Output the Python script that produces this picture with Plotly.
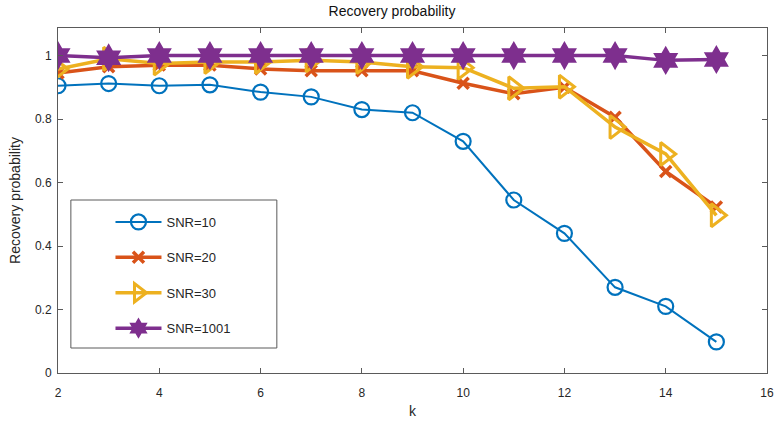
import plotly.graph_objects as go

k = [2, 3, 4, 5, 6, 7, 8, 9, 10, 11, 12, 13, 14, 15]
snr10 = [0.905, 0.912, 0.905, 0.908, 0.885, 0.87, 0.83, 0.82, 0.73, 0.545, 0.44, 0.27, 0.21, 0.098]
snr20 = [0.945, 0.965, 0.97, 0.97, 0.958, 0.952, 0.952, 0.952, 0.913, 0.88, 0.9, 0.806, 0.635, 0.523]
snr30 = [0.958, 0.99, 0.975, 0.98, 0.98, 0.985, 0.98, 0.965, 0.962, 0.897, 0.902, 0.775, 0.69, 0.497]
snr1001 = [1.0, 0.993, 1.0, 1.0, 1.0, 1.0, 1.0, 1.0, 1.0, 1.0, 1.0, 1.0, 0.985, 0.988]
names = ["SNR=10", "SNR=20", "SNR=30", "SNR=1001"]
xticks = [2, 4, 6, 8, 10, 12, 14, 16]
yticks = [0, 0.2, 0.4, 0.6, 0.8, 1.0]
yticklabels = ["0", "0.2", "0.4", "0.6", "0.8", "1"]

blue, orange, yellow, purple = "#0072BD", "#D95319", "#EDB120", "#7E2F8E"

fig = go.Figure()
fig.add_trace(go.Scatter(x=k, y=snr10, name=names[0], legendgroup="a", mode="lines+markers",
                         line=dict(color=blue, width=2),
                         marker=dict(symbol="circle-open", size=15, color=blue, line=dict(width=2.2, color=blue))))
fig.add_trace(go.Scatter(x=k, y=snr20, name=names[1], legendgroup="b", mode="lines+markers",
                         line=dict(color=orange, width=3.5),
                         marker=dict(symbol="x-thin", size=11, color=orange, line=dict(width=3.5, color=orange))))
fig.add_trace(go.Scatter(x=k, y=snr30, name=names[2], legendgroup="c", mode="lines+markers",
                         line=dict(color=yellow, width=3.5),
                         marker=dict(symbol="triangle-right-open", size=20, color=yellow, line=dict(width=3, color=yellow))))
fig.add_trace(go.Scatter(x=k, y=snr1001, name=names[3], legendgroup="d", mode="lines+markers",
                         line=dict(color=purple, width=3.5),
                         marker=dict(symbol="hexagram", size=22, color=purple, line=dict(width=0))))

axis_common = dict(showline=True, linecolor="#5a5a5a", linewidth=1, mirror="ticks", ticks="inside",
                   ticklen=5, tickcolor="#5a5a5a", showgrid=False, zeroline=False,
                   tickfont=dict(family="Liberation Sans, Arial", size=12, color="#262626"))

fig.update_xaxes(range=[2, 16], tickvals=xticks, ticklabelstandoff=9, **axis_common,
                 title=dict(text="k", font=dict(family="Liberation Sans, Arial", size=14, color="#262626"), standoff=6))
fig.update_yaxes(range=[0, 1.087], tickvals=yticks, ticktext=yticklabels, ticklabelstandoff=3, **axis_common,
                 title=dict(text="Recovery probability", font=dict(family="Liberation Sans, Arial", size=14, color="#262626"), standoff=11))

fig.add_shape(type="rect", xref="paper", yref="paper",
              x0=(71 - 58) / 716, x1=(279 - 58) / 716, y0=(373 - 348) / 345, y1=(373 - 200) / 345,
              line=dict(color="#5a5a5a", width=1), fillcolor="white", layer="above")

fig.update_layout(
    width=784, height=426,
    margin=dict(l=58, r=10, t=28, b=53),
    paper_bgcolor="white", plot_bgcolor="white",
    title=dict(text="Recovery probability", x=0.5, xanchor="center", y=0.985, yanchor="top",
               font=dict(family="Liberation Sans, Arial", size=14, color="#111")),
    legend=dict(x=(111 - 58) / 716, y=(373 - 207) / 345, xanchor="left", yanchor="top",
                bgcolor="rgba(0,0,0,0)", borderwidth=0, tracegroupgap=15.5, itemwidth=46,
                font=dict(family="Liberation Sans, Arial", size=13, color="#262626")),
    showlegend=True,
)

fig.write_html("out.html", config={"displayModeBar": False},
               post_script="document.body.style.margin='0';document.body.style.padding='0';")
